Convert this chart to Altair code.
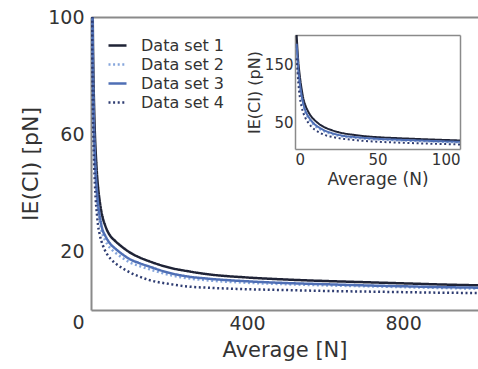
import altair as alt
import pandas as pd

FONT = "DejaVu Sans"
TEXT = "#333333"

N = [1, 2, 3, 4, 5, 6, 8, 10, 12, 15, 18, 22, 26, 30, 36, 42, 50, 60, 70, 85,
     100, 120, 150, 200, 250, 300, 400, 500, 600, 700, 800, 900, 1000]

ds1 = [200, 155, 128, 108, 92, 82, 69, 60, 54, 47, 42, 37.5, 34, 31.5, 29, 27, 25.2, 23.8, 22.6, 21,
       19.6, 18.2, 16.6, 14.5, 13.2, 12.2, 11.1, 10.4, 9.9, 9.5, 9.1, 8.7, 8.4]
ds3 = [185, 142, 116, 97, 83, 73, 61, 53, 47, 41, 36.5, 32.5, 29.5, 27.2, 25.5, 24, 22.5, 21.2, 20.1, 18.6,
       17.3, 16.2, 14.8, 12.7, 11.4, 10.7, 9.8, 9.2, 8.8, 8.4, 8.1, 7.8, 7.6]
ds2 = [178, 136, 110, 92, 79, 69, 58, 50, 44.5, 38.5, 34.5, 30.5, 27.7, 25.6, 23.8, 22.4, 21, 19.8, 18.8, 17.4,
       16.2, 15.2, 13.9, 12, 10.8, 10.1, 9.3, 8.8, 8.4, 8.1, 7.8, 7.5, 7.3]
ds4 = [160, 118, 92, 77, 67, 60, 50, 43, 38, 33, 29, 26, 23.8, 22.2, 20.3, 18.9, 17.5, 16.2, 15.2, 13.9,
       12.8, 11.6, 10.2, 8.9, 8.0, 7.6, 7.1, 6.8, 6.5, 6.3, 6.1, 5.9, 5.8]

series_names = ["Data set 1", "Data set 2", "Data set 3", "Data set 4"]
series_colors = ["#1f2336", "#86a6dc", "#4f6fb5", "#2f3d72"]
series_dash = [[1, 0], [2, 2.6], [1, 0], [2, 2.6]]

main_x_ticks = [400, 800]
main_y_ticks = [0, 20, 60, 100]
inset_x_ticks = [0, 50, 100]
inset_y_ticks = [50, 150]

rows = []
for name, vals in zip(series_names, [ds1, ds2, ds3, ds4]):
    for n, v in zip(N, vals):
        rows.append({"N": n, "IE": v, "series": name})
df = pd.DataFrame(rows)

color = alt.Color("series:N", scale=alt.Scale(domain=series_names, range=series_colors),
                  legend=alt.Legend(title=None, orient="none", legendX=16, legendY=18,
                                    symbolType="stroke", symbolSize=324, symbolStrokeWidth=2.5,
                                    labelFont=FONT, labelFontSize=16, labelColor=TEXT,
                                    labelOffset=13, rowPadding=0, padding=0))
dash = alt.StrokeDash("series:N", scale=alt.Scale(domain=series_names, range=series_dash), legend=None)

base = alt.Chart(df)

main = base.mark_line(strokeWidth=2.5, clip=True, interpolate="monotone").encode(
    x=alt.X("N:Q", scale=alt.Scale(domain=[0, 992], nice=False, zero=False),
            axis=alt.Axis(values=main_x_ticks, title="Average [N]", grid=False, tickSize=0,
                          labelPadding=4, titlePadding=6, domainColor="#8a8a8a", domainWidth=2)),
    y=alt.Y("IE:Q", scale=alt.Scale(domain=[0, 100], nice=False),
            axis=alt.Axis(values=main_y_ticks, title="IE(CI) [pN]", grid=False, tickSize=0,
                          labelPadding=7, titlePadding=5, titleFontSize=22,
                          domainColor="#8a8a8a", domainWidth=2,
                          labelOffset={"condition": {"test": "datum.value === 0", "value": 12}, "value": 0})),
    color=color,
    strokeDash=dash,
)

main_top = base.mark_line(opacity=0).encode(
    x=alt.X("N:Q", scale=alt.Scale(domain=[0, 992], nice=False, zero=False),
            axis=alt.Axis(orient="top", labels=False, ticks=False, title=None, grid=False,
                          domainColor="#8a8a8a", domainWidth=2)),
    y=alt.Y("IE:Q", scale=alt.Scale(domain=[0, 100], nice=False), axis=None),
)

inset_base = base.transform_filter("datum.N <= 100")

inset = inset_base.mark_line(strokeWidth=2, interpolate="monotone").encode(
    x=alt.X("N:Q", scale=alt.Scale(domain=[0, 100], range=[204, 369], nice=False, zero=False),
            axis=alt.Axis(orient="bottom", offset=-161, values=inset_x_ticks, title="Average (N)",
                          grid=False, tickSize=0, labelPadding=3, titlePadding=4,
                          labelFontSize=15, titleFontSize=17,
                          domainColor="#8a8a8a", domainWidth=1.5)),
    y=alt.Y("IE:Q", scale=alt.Scale(domain=[5, 200], range=[132, 18], nice=False, zero=False),
            axis=alt.Axis(orient="left", offset=-204, values=inset_y_ticks, title="IE(CI) (pN)",
                          grid=False, tickSize=0, labelPadding=2, titlePadding=2,
                          labelFontSize=15, titleFontSize=16,
                          domainColor="#8a8a8a", domainWidth=1.5)),
    color=color,
    strokeDash=dash,
)

inset_box = inset_base.mark_line(opacity=0).encode(
    x=alt.X("N:Q", scale=alt.Scale(domain=[0, 100], range=[204, 369], nice=False, zero=False),
            axis=alt.Axis(orient="top", offset=-18, labels=False, ticks=False, title=None, grid=False,
                          domainColor="#8a8a8a", domainWidth=1.5)),
    y=alt.Y("IE:Q", scale=alt.Scale(domain=[5, 200], range=[132, 18], nice=False, zero=False),
            axis=alt.Axis(orient="right", offset=-18, labels=False, ticks=False, title=None, grid=False,
                          domainColor="#8a8a8a", domainWidth=1.5)),
)

chart = alt.layer(main, main_top, inset, inset_box).resolve_scale(
    x="independent", y="independent"
).resolve_axis(
    x="independent", y="independent"
).properties(
    width=387, height=293,
    autosize=alt.AutoSizeParams(type="none"),
    padding={"left": 91, "top": 17, "right": 0, "bottom": 59},
    background="white",
).configure_view(
    stroke=None
).configure_axis(
    labelFont=FONT, titleFont=FONT, labelColor=TEXT, titleColor=TEXT,
    labelFontSize=19, titleFontSize=21, titleFontWeight="normal",
)

chart.save("out.html", embed_options={"renderer": "svg", "actions": False})
